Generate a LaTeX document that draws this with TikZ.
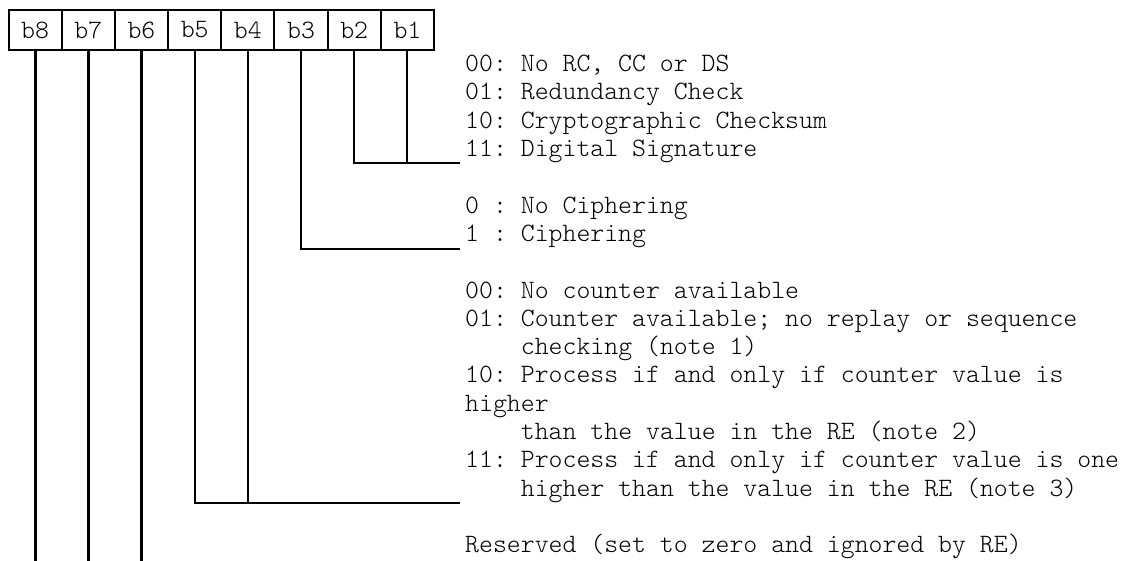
\documentclass[tikz,border=0pt]{standalone}
\usepackage{fontspec}
\setmonofont{Latin Modern Mono Light}
\usetikzlibrary{positioning}
\tikzset{
  bit/.style={draw, line width=2pt, minimum width=53.19pt, minimum height=40pt, inner sep=0pt, outer sep=0pt, font=\ttfamily\fontsize{26.5}{28.3}\selectfont},
  txt/.style={anchor=base west, inner sep=0pt, font=\ttfamily\fontsize{26.5}{28.3}\selectfont},
  lead/.style={line width=2pt},
  heavy/.style={line width=3pt},
}
% one text row: line number, indent (chars), text
\newcommand{\row}[3]{\node[txt] (r#1) at ({465+13.92*#2},{71.6+28.3*#1}) {#3};}

\begin{document}
\begin{tikzpicture}[x=1pt,y=-1pt]
  \useasboundingbox (0,0) rectangle (1134,561);
  % bit cells
  \node[bit] (b8) at (35.1,30) {b8};
  \foreach \k [remember=\k as \p (initially 8)] in {7,...,1}
    \node[bit, right=0pt of b\p] (b\k) {b\k};
  % meanings
  \row{0}{0}{00: No RC, CC or DS}
  \row{1}{0}{01: Redundancy Check}
  \row{2}{0}{10: Cryptographic Checksum}
  \row{3}{0}{11: Digital Signature}
  \row{5}{0}{0 : No Ciphering}
  \row{6}{0}{1 : Ciphering}
  \row{8}{0}{00: No counter available}
  \row{9}{0}{01: Counter available; no replay or sequence}
  \row{10}{4}{checking (note 1)}
  \row{11}{0}{10: Process if and only if counter value is}
  \row{12}{0}{higher}
  \row{13}{4}{than the value in the RE (note 2)}
  \row{14}{0}{11: Process if and only if counter value is one}
  \row{15}{4}{higher than the value in the RE (note 3)}
  \row{17}{0}{Reserved (set to zero and ignored by RE)}
  % leads
  \coordinate (e21) at (460,163.5);
  \coordinate (e3) at (460,249);
  \coordinate (e54) at (460,503);
  \coordinate (foot) at (0,561);
  \draw[lead] (b2.south) |- (e21);
  \draw[lead] (b1.south) -- (b1 |- e21);
  \draw[lead] (b3.south) |- (e3);
  \draw[lead] (b5.south) |- (e54);
  \draw[lead] (b4.south) -- (b4 |- e54);
  \foreach \k in {8,7,6}
    \draw[heavy] (b\k.south) -- (b\k |- foot);
\end{tikzpicture}
\end{document}
